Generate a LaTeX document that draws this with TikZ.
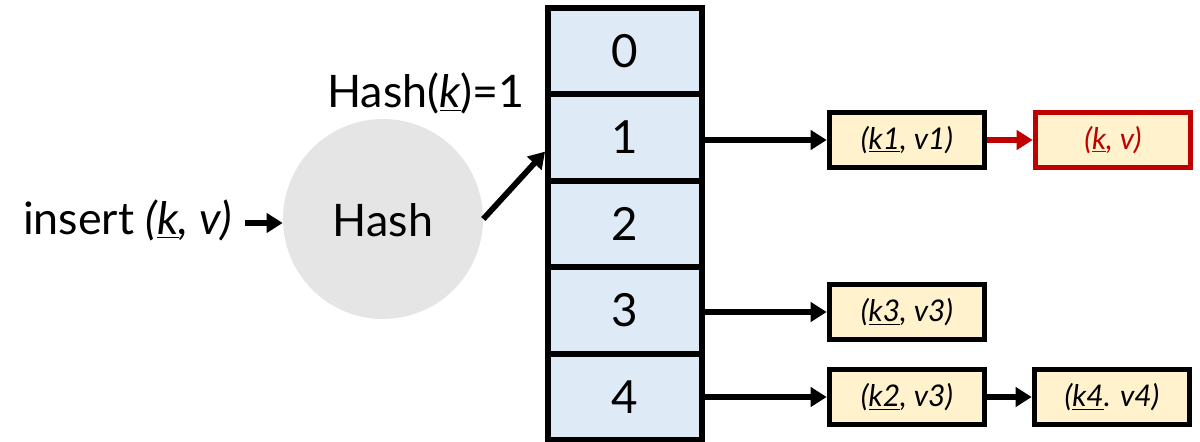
\documentclass[tikz,border=0pt]{standalone}
\usepackage{fontspec}
\setmainfont{Lato}
\usetikzlibrary{arrows.meta}
\definecolor{cellblue}{HTML}{DEEBF7}
\definecolor{pairfill}{HTML}{FFF2CC}
\definecolor{hashgray}{HTML}{E5E5E5}
\definecolor{newred}{HTML}{C00000}
\tikzset{
 cell/.style={draw=black, fill=cellblue, line width=3.4pt, minimum width=3.08cm, minimum height=1.728cm, inner sep=0, font=\fontsize{26}{30}\selectfont},
 pair/.style={draw=black, fill=pairfill, line width=3.2pt, minimum width=3.1cm, minimum height=1.1cm, inner sep=0, font=\fontsize{17}{20}\selectfont\itshape},
 ptr/.style={line width=3.3pt, -{Triangle[length=0.32cm,width=0.38cm]}},
 big/.style={font=\fontsize{25.5}{30}\selectfont, inner sep=0}
}
\begin{document}
\begin{tikzpicture}[x=0.02cm,y=-0.02cm]
\useasboundingbox (0,0) rectangle (1200,442);
% table
\node[cell] (c0) at (625,51.2) {0};
\node[cell] (c1) at (625,137.6) {1};
\node[cell] (c2) at (625,224) {2};
\node[cell] (c3) at (625,310.4) {3};
\node[cell] (c4) at (625,396.8) {4};
% hash
\node[circle, fill=hashgray, minimum size=4cm, inner sep=0] (hash) at (383,219) {};
\node[big, anchor=base] (hashtxt) at (383,236) {Hash};
\node[big, anchor=base east] (ins) at (232,235) {insert \textit{(\underline{k}, v)}};
\node[big, anchor=base] (hk) at (426,108) {Hash(\textit{\underline{k}})=1};
% pairs
\node[pair] (p1) at (907,140) {(\underline{k1}, v1)};
\node[pair, draw=newred, text=newred] (pn) at (1113,140) {(\underline{k}, v)};
\node[pair] (p3) at (907,312) {(\underline{k3}, v3)};
\node[pair] (p2) at (907,397) {(\underline{k2}, v3)};
\node[pair] (p4) at (1112,397) {(\underline{k4}. v4)};
% arrows
\coordinate (tip) at ([yshift=-0.28cm]c1.west);
\coordinate (insfrom) at (245,223);
\draw[ptr] (insfrom) -- (insfrom -| hash.west);
\draw[ptr] (hash.east) -- (tip);
\draw[ptr] (c1.east |- p1) -- (p1.west);
\draw[ptr, newred] (p1) -- (pn);
\draw[ptr] (c3.east |- p3) -- (p3.west);
\draw[ptr] (c4.east |- p2) -- (p2.west);
\draw[ptr] (p2) -- (p4);
\end{tikzpicture}
\end{document}
